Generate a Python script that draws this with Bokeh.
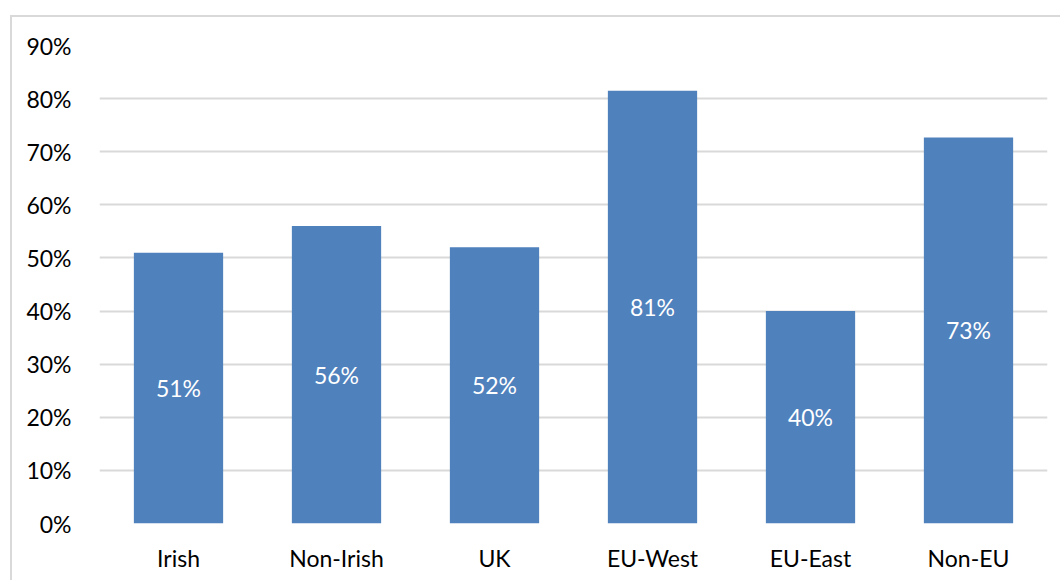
from bokeh.plotting import figure
from bokeh.models import ColumnDataSource, FactorRange, Range1d, NumeralTickFormatter, FixedTicker
from bokeh.embed import file_html
from bokeh.resources import INLINE
from bokeh.core.properties import value

categories = ["Irish", "Non-Irish", "UK", "EU-West", "EU-East", "Non-EU"]
shares = [0.51, 0.56, 0.52, 0.815, 0.40, 0.727]
labels = ["51%", "56%", "52%", "81%", "40%", "73%"]
y_ticks = [0.0, 0.1, 0.2, 0.3, 0.4, 0.5, 0.6, 0.7, 0.8, 0.9]

FONT = "Lato"
BAR = "#4F81BD"
FS = "23px"

src = ColumnDataSource(dict(
    cat=categories,
    val=shares,
    mid=[v / 2 for v in shares],
    lab=labels,
))

p = figure(
    x_range=FactorRange(*categories, range_padding=0.0),
    y_range=Range1d(0, 0.9),
    width=1050, height=565,
    output_backend="svg", toolbar_location=None,
    min_border_left=87, min_border_right=15,
    min_border_top=28, min_border_bottom=59,
)
p.styles = {"margin-left": "10px", "margin-top": "15px",
            "border-left": "2px solid #d9d9d9", "border-top": "2px solid #d9d9d9"}

p.vbar(x="cat", top="val", width=0.565, source=src, fill_color=BAR, line_color=None)
p.text(x="cat", y="mid", text="lab", source=src, text_color="white",
       text_font=value(FONT), text_font_size=FS,
       text_align="center", text_baseline="middle")

p.outline_line_color = None
p.xgrid.grid_line_color = None
p.ygrid.grid_line_color = "#d9d9d9"
p.ygrid.grid_line_width = 2
p.yaxis.ticker = FixedTicker(ticks=y_ticks)
p.yaxis.formatter = NumeralTickFormatter(format="0%")

for ax in (p.xaxis, p.yaxis):
    ax.axis_line_color = None
    ax.major_tick_line_color = None
    ax.minor_tick_line_color = None
    ax.major_label_text_font = FONT
    ax.major_label_text_font_size = FS
    ax.major_label_text_color = "#000000"

p.yaxis.major_label_standoff = 22
p.xaxis.major_label_standoff = 14

open("out.html", "w").write(file_html(p, INLINE))
